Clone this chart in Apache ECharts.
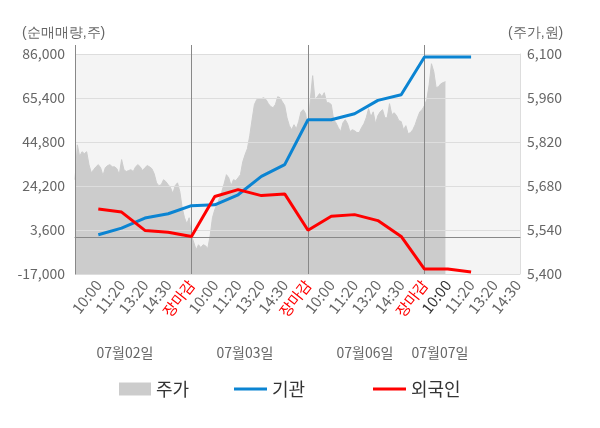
<!DOCTYPE html>
<html><head><meta charset="utf-8">
<script src="https://cdn.jsdelivr.net/npm/echarts@6/dist/echarts.min.js"></script>
<style>html,body{margin:0;padding:0;background:#fff}#c{width:600px;height:428px}</style>
</head><body><div id="c"></div>
<script>
// ---- data ----
const dates = ['07월02일', '07월03일', '07월06일', '07월07일'];
const slotLabels = ['10:00','11:20','13:20','14:30','장마감',
                    '10:00','11:20','13:20','14:30','장마감',
                    '10:00','11:20','13:20','14:30','장마감',
                    '10:00','11:20','13:20','14:30'];
// net buying volume (shares) at each labelled time
const institution = [1400, 4500, 9200, 11200, 15000,
                     15400, 20100, 28700, 34200, 55200,
                     55200, 58000, 64300, 66900, 84600,
                     84600, 84600];
const foreign = [13400, 12000, 3400, 2500, 600,
                 19300, 22500, 19700, 20500, 3500,
                 10000, 10800, 8000, 600, -14700,
                 -14700, -16100];
// stock price (won), fine intraday samples
const price = [
  5700,5811,5774,5789,5783,5789,5748,5722,5732,5741,
  5748,5738,5713,5738,5745,5748,5741,5741,5735,5716,
  5764,5732,5726,5729,5732,5726,5741,5748,5741,5729,
  5738,5745,5741,5735,5719,5690,5681,5684,5700,5694,
  5684,5675,5656,5681,5690,5662,5611,5579,5560,5579,
  5522,5500,5477,5493,5484,5493,5490,5481,5522,5579,
  5605,5621,5643,5662,5687,5716,5706,5681,5700,5697,
  5706,5716,5757,5780,5799,5840,5891,5939,5955,5958,
  5958,5961,5955,5942,5933,5929,5939,5964,5961,5948,
  5936,5897,5872,5859,5875,5862,5885,5916,5923,5910,
  5859,5955,6031,5955,5964,5974,5964,5977,5945,5945,
  5939,5891,5881,5866,5853,5881,5891,5878,5853,5859,
  5856,5850,5850,5866,5878,5897,5926,5900,5916,5878,
  5904,5916,5923,5897,5897,5942,5907,5913,5904,5888,
  5885,5859,5872,5846,5850,5859,5875,5897,5916,5923,
  5936,5955,6002,6069,6044,5993,5996,6005,6009,6012
];
const leftTicks = {min: -17000, max: 86000, interval: 20600};
const rightTicks = {min: 5400, max: 6100, interval: 140};

// ---- axis structure ----
const STEP = 10;           // samples per labelled slot
const SLOTS_PER_DAY = 5;
const N = 192;             // category count
const cats = Array.from({length: N}, (_, i) => String(i));
function slotSeries(vals) {
  const a = new Array(N).fill(null);
  vals.forEach((v, k) => { a[(k + 1) * STEP] = v; });
  return a;
}
const FONT = '"Noto Sans CJK KR", "Noto Sans", sans-serif';
const dayLen = STEP * SLOTS_PER_DAY;

const chart = echarts.init(document.getElementById('c'), null, {renderer: 'canvas'});
chart.setOption({
  animation: false,
  textStyle: {fontFamily: FONT},
  grid: {left: 75, right: 80, top: 54, height: 220, show: true,
         backgroundColor: '#f4f4f4', borderWidth: 0},
  legend: [
    {data: [{name: '주가', icon: 'rect', itemStyle: {color: '#cccccc'}}],
     left: 114, top: 375, itemWidth: 32, itemHeight: 13,
     textStyle: {fontSize: 18, color: '#333', fontFamily: FONT}},
    {data: [{name: '기관', icon: 'rect'}],
     left: 229, top: 375, itemWidth: 33, itemHeight: 3,
     textStyle: {fontSize: 18, color: '#333', fontFamily: FONT}},
    {data: [{name: '외국인', icon: 'rect'}],
     left: 368, top: 375, itemWidth: 33, itemHeight: 3,
     textStyle: {fontSize: 18, color: '#333', fontFamily: FONT}}
  ],
  xAxis: [{
    type: 'category', data: cats, boundaryGap: false, position: 'bottom', z: 3,
    axisLine: {lineStyle: {color: '#888'}},
    axisTick: {interval: i => i % dayLen === 0, length: 5, lineStyle: {color: '#888'}},
    splitLine: {show: true, interval: i => i > 0 && i % dayLen === 0, lineStyle: {color: '#888'}},
    axisLabel: {
      interval: i => i > 0 && i % STEP === 0,
      rotate: 52, margin: 8, fontSize: 15, color: '#666', fontFamily: FONT,
      formatter: (v, idx) => {
        const k = Number(v) / STEP - 1;
        const t = slotLabels[k] || '';
        if (t === '장마감') return '{r|' + t + '}';
        if (k === 15) return '{d|' + t + '}';
        return t;
      },
      rich: {
        r: {color: '#ff0000', fontSize: 15, fontFamily: FONT},
        d: {color: '#333333', fontSize: 15, fontFamily: FONT}
      }
    }
  }, {
    type: 'category', data: cats, boundaryGap: false, position: 'top',
    axisLine: {show: false}, axisLabel: {show: false}, splitLine: {show: false},
    axisTick: {interval: i => i % dayLen === 0, length: 9, lineStyle: {color: '#888'}}
  }],
  yAxis: [{
    type: 'value', min: leftTicks.min, max: leftTicks.max, interval: leftTicks.interval, z: 3,
    axisLine: {show: true, lineStyle: {color: '#888'}},
    axisTick: {show: false},
    axisLabel: {fontSize: 14, color: '#666', margin: 10, fontFamily: FONT},
    splitLine: {show: true, lineStyle: {color: '#dddddd'}}
  }, {
    type: 'value', min: rightTicks.min, max: rightTicks.max, interval: rightTicks.interval, z: 3,
    axisLine: {show: true, lineStyle: {color: '#dddddd'}},
    axisTick: {show: false},
    axisLabel: {fontSize: 14, color: '#666', margin: 7, fontFamily: FONT},
    splitLine: {show: false}
  }],
  graphic: [
    {type: 'text', left: 22, top: 26, style: {text: '(순매매량,주)', fontSize: 14, fill: '#666', font: '14px ' + FONT}},
    {type: 'text', left: 508, top: 26, style: {text: '(주가,원)', fontSize: 14, fill: '#666', font: '14px ' + FONT}},
    ...dates.map((d, k) => ({
      type: 'text', x: [125, 245, 365, 440][k], y: 353,
      style: {text: d, fill: '#666', font: '14px ' + FONT, align: 'center', verticalAlign: 'middle'}
    }))
  ],
  series: [
    {name: '주가', type: 'line', yAxisIndex: 1, data: price, symbol: 'none', z: 2,
     lineStyle: {width: 1, color: '#cccccc'}, itemStyle: {color: '#cccccc'},
     areaStyle: {color: '#cccccc', opacity: 1}},
    {name: '기관', type: 'line', yAxisIndex: 0, data: slotSeries(institution), connectNulls: true,
     symbol: 'none', z: 5, color: '#0b84d2', lineStyle: {width: 3, color: '#0b84d2'},
     markLine: {silent: true, symbol: ['none', 'none'], label: {show: false},
                lineStyle: {color: '#888', type: 'solid', width: 1}, data: [{yAxis: 0}]}},
    {name: '외국인', type: 'line', yAxisIndex: 0, data: slotSeries(foreign), connectNulls: true,
     symbol: 'none', z: 6, color: '#ff0000', lineStyle: {width: 3, color: '#ff0000'}}
  ]
});
</script></body></html>
